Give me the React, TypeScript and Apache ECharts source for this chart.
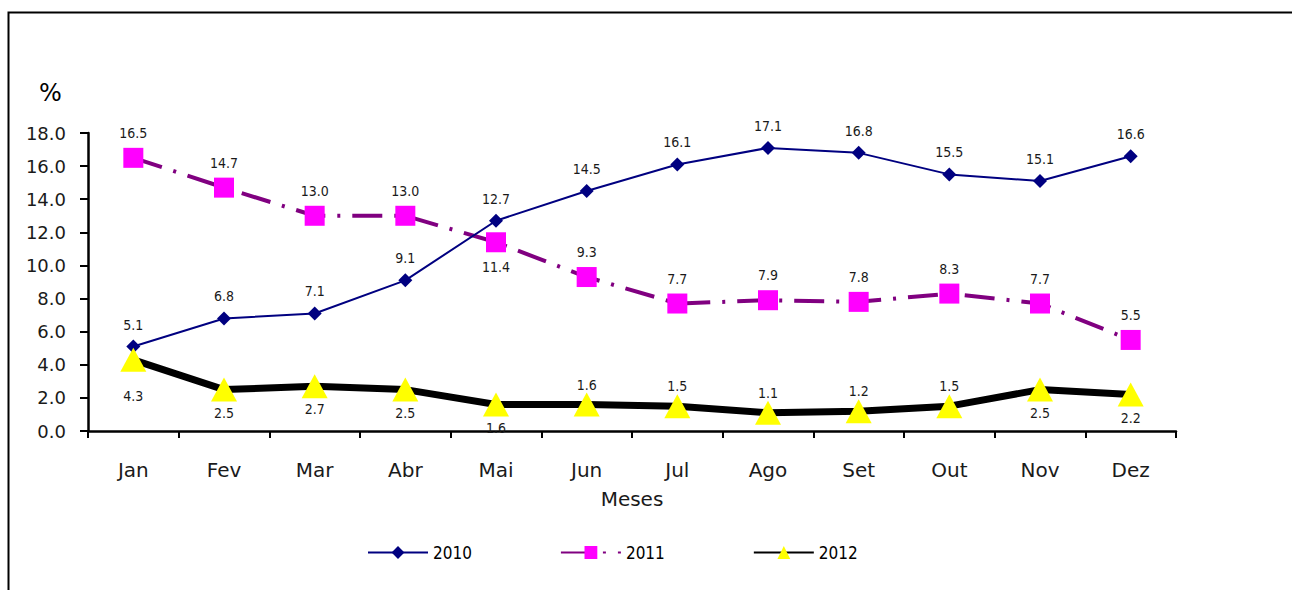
import React, { useEffect, useRef } from "react";
import * as echarts from "echarts";

const months = ["Jan", "Fev", "Mar", "Abr", "Mai", "Jun", "Jul", "Ago", "Set", "Out", "Nov", "Dez"];
const values2010 = [5.1, 6.8, 7.1, 9.1, 12.7, 14.5, 16.1, 17.1, 16.8, 15.5, 15.1, 16.6];
const values2011 = [16.5, 14.7, 13.0, 13.0, 11.4, 9.3, 7.7, 7.9, 7.8, 8.3, 7.7, 5.5];
const values2012 = [4.3, 2.5, 2.7, 2.5, 1.6, 1.6, 1.5, 1.1, 1.2, 1.5, 2.5, 2.2];
// label placement per point ("top" or "bottom")
const pos2011 = ["top", "top", "top", "top", "bottom", "top", "top", "top", "top", "top", "top", "top"];
const pos2012 = ["bottom", "bottom", "bottom", "bottom", "bottom", "top", "top", "top", "top", "top", "bottom", "bottom"];
const yTicks = { min: 0, max: 18, interval: 2 };

const FONT = "DejaVu Sans";
const FONT_C = "DejaVu Sans Condensed";

export default function App() {
  const ref = useRef<HTMLDivElement>(null);
  useEffect(() => {
    if (!ref.current) return;
    const chart = echarts.init(ref.current, null, { renderer: "svg" });
    const labelBase = {
      show: true,
      fontFamily: FONT_C,
      fontSize: 14,
      color: "#1a1a1a",
      formatter: (p: any) => Number(p.value).toFixed(1),
    };
    chart.setOption({
      animation: false,
      backgroundColor: "#ffffff",
      grid: { left: 88, right: 116, top: 133, bottom: 159, containLabel: false },
      graphic: [
        {
          type: "rect",
          shape: { x: 8.5, y: 12.5, width: 1320, height: 620 },
          style: { fill: "none", stroke: "#000", lineWidth: 2 },
          silent: true,
        },
        {
          type: "text",
          left: 39,
          top: 81,
          style: { text: "%", fontFamily: FONT, fontSize: 24, fill: "#000" },
        },
      ],
      legend: {
        left: 362,
        top: 539,
        itemWidth: 60,
        itemHeight: 16,
        itemGap: 88,
        textStyle: { fontFamily: FONT_C, fontSize: 17, color: "#000" },
        data: [
          { name: "2010", lineStyle: { width: 2 } },
          { name: "2011", lineStyle: { width: 2 } },
          { name: "2012", lineStyle: { width: 2 } },
        ],
      },
      xAxis: {
        type: "category",
        data: months,
        boundaryGap: true,
        name: "Meses",
        nameLocation: "middle",
        nameGap: 58,
        nameTextStyle: { fontFamily: FONT, fontSize: 20, color: "#1a1a1a" },
        axisLine: { lineStyle: { color: "#000", width: 2.5 } },
        axisTick: { show: true, inside: false, length: 7, interval: 0, lineStyle: { width: 2, color: "#000" } },
        axisLabel: { fontFamily: FONT, fontSize: 20, color: "#1a1a1a", margin: 29, interval: 0 },
        splitLine: { show: false },
      },
      yAxis: {
        type: "value",
        min: yTicks.min,
        max: yTicks.max,
        interval: yTicks.interval,
        axisLine: { show: true, lineStyle: { color: "#000", width: 2.5 } },
        axisTick: { show: true, inside: false, length: 8, lineStyle: { width: 2, color: "#000" } },
        axisLabel: {
          fontFamily: FONT,
          fontSize: 18,
          color: "#1a1a1a",
          margin: 22,
          formatter: (v: number) => v.toFixed(1),
        },
        splitLine: { show: false },
      },
      series: [
        {
          name: "2010",
          type: "line",
          data: values2010,
          symbol: "diamond",
          symbolSize: 14,
          lineStyle: { color: "#000080", width: 2 },
          itemStyle: { color: "#000080" },
          label: { ...labelBase, position: "top", distance: 8 },
          z: 3,
        },
        {
          name: "2011",
          type: "line",
          data: values2011.map((v, i) => ({ value: v, label: { position: pos2011[i] } })),
          symbol: "rect",
          symbolSize: 20,
          lineStyle: { color: "#800080", width: 4, type: [30, 12, 3, 12] },
          itemStyle: { color: "#FF00FF" },
          label: { ...labelBase, distance: 8 },
          z: 2,
        },
        {
          name: "2012",
          type: "line",
          data: values2012.map((v, i) => ({
            value: v,
            label: {
              position: pos2012[i],
              distance: pos2012[i] === "top" ? 1 : i === 0 ? 17 : 4,
            },
          })),
          symbol: "triangle",
          symbolSize: [26, 24],
          lineStyle: { color: "#000000", width: 7 },
          itemStyle: { color: "#FFFF00" },
          label: { ...labelBase },
          z: 4,
        },
      ],
    });
    return () => chart.dispose();
  }, []);
  return (
    <div
      ref={ref}
      style={{ position: "fixed", left: 0, top: 0, width: 1292, height: 590 }}
    />
  );
}
